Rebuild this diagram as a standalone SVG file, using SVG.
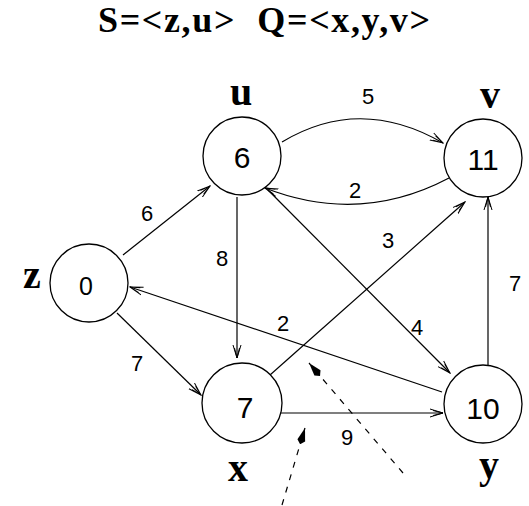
<svg xmlns="http://www.w3.org/2000/svg" width="529" height="506" viewBox="0 0 529 506">
<style>
.node{fill:#fff;stroke:#000;stroke-width:1.3}
.num{font-family:"Liberation Sans",Arial,sans-serif;text-anchor:middle;fill:#000}
.name{font-family:"Liberation Serif","Times New Roman",serif;font-weight:bold;font-size:40px;text-anchor:middle;fill:#000}
.lbl{font-family:"Liberation Sans",Arial,sans-serif;font-size:22px;text-anchor:middle;fill:#000}
.edge{fill:none;stroke:#000;stroke-width:1.2;marker-end:url(#arr)}
.dash{fill:none;stroke:#000;stroke-width:1.2;stroke-dasharray:6,7;marker-end:url(#farr)}
</style>
<defs>
<marker id="arr" viewBox="0 0 14 10" refX="13" refY="5" markerWidth="14" markerHeight="10" markerUnits="userSpaceOnUse" orient="auto">
<path d="M0,1 L13,5 L0,9 M3,2.5 L13,5 L3,7.5" fill="none" stroke="#000" stroke-width="1"/>
</marker>
<marker id="farr" viewBox="0 0 18 10" refX="17" refY="5" markerWidth="18" markerHeight="10" markerUnits="userSpaceOnUse" orient="auto">
<path d="M0,5 L4,1 L17,5 L4,9 Z" fill="#000"/>
</marker>
</defs>
<text x="98" y="32" font-family="'Liberation Serif','Times New Roman',serif" font-weight="bold" font-size="36" textLength="332" lengthAdjust="spacing" xml:space="preserve">S=&lt;z,u&gt;  Q=&lt;x,y,v&gt;</text>
<g id="connectors">
<path class="edge" d="M123,255 L210,186"/>
<path class="edge" d="M282,142 Q360,95 443,143"/>
<path class="edge" d="M449,178 Q360,225 265,188"/>
<path class="edge" d="M237,197 L237,358"/>
<path class="edge" d="M268,190 L450,373"/>
<path class="edge" d="M270,375 L465,202"/>
<path class="edge" d="M488,365 L488,197"/>
<path class="edge" d="M442,392 L130,287"/>
<path class="edge" d="M117,313 L201,395"/>
<path class="edge" d="M278,413 L443,413"/>
<path class="dash" d="M403,473 L309,363"/>
<path class="dash" d="M282,505 L305,428"/>
<text class="lbl" x="147" y="221">6</text>
<text class="lbl" x="368" y="104">5</text>
<text class="lbl" x="355" y="198">2</text>
<text class="lbl" x="222" y="266">8</text>
<text class="lbl" x="417" y="335">4</text>
<text class="lbl" x="388" y="248">3</text>
<text class="lbl" x="515" y="291">7</text>
<text class="lbl" x="283" y="331">2</text>
<text class="lbl" x="137" y="371">7</text>
<text class="lbl" x="347" y="445">9</text>
</g>
<g id="node-u">
<circle class="node" cx="242" cy="156" r="39"/>
<text class="num" x="242" y="168" font-size="30">6</text>
<text class="name" x="241" y="105">u</text>
</g>
<g id="node-v">
<circle class="node" cx="483" cy="158" r="39"/>
<text class="num" x="483" y="170" font-size="30">11</text>
<text class="name" x="490" y="108">v</text>
</g>
<g id="node-z">
<circle class="node" cx="89" cy="283" r="39"/>
<text class="num" x="86" y="295" font-size="25">0</text>
<text class="name" x="32" y="288">z</text>
</g>
<g id="node-x">
<circle class="node" cx="242" cy="403" r="40"/>
<text class="num" x="245" y="418" font-size="30">7</text>
<text class="name" x="238" y="481">x</text>
</g>
<g id="node-y">
<circle class="node" cx="483" cy="404" r="39"/>
<text class="num" x="483" y="419" font-size="30">10</text>
<text class="name" x="489" y="478">y</text>
</g>
</svg>
